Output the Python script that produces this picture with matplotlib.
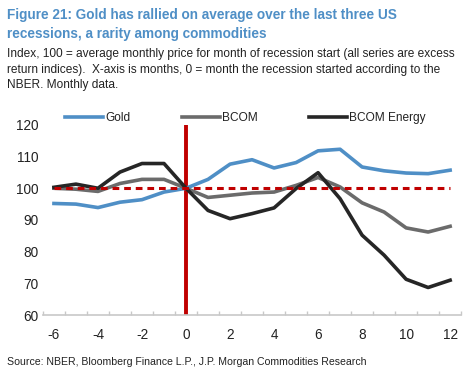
import matplotlib
matplotlib.use("Agg")
import matplotlib.pyplot as plt

months = list(range(-6, 13))
gold = [95.2, 95.0, 93.9, 95.6, 96.4, 98.8, 100.0, 102.8, 107.6, 109.0, 106.4,
        108.1, 111.8, 112.3, 106.7, 105.5, 104.8, 104.6, 105.7]
bcom = [100.0, 99.7, 99.0, 101.5, 102.8, 102.8, 100.0, 97.1, 97.8, 98.5, 98.8,
        100.9, 103.4, 100.4, 95.4, 92.5, 87.5, 86.2, 88.0]
energy = [100.3, 101.3, 100.0, 105.1, 107.8, 107.8, 100.0, 93.0, 90.4, 92.0, 93.8,
          99.9, 104.9, 96.7, 85.2, 78.9, 71.3, 68.7, 71.0]
yticks = [60, 70, 80, 90, 100, 110, 120]
xticks = [-6, -4, -2, 0, 2, 4, 6, 8, 10, 12]

TITLE = "Figure 21: Gold has rallied on average over the last three US\nrecessions, a rarity among commodities"
SUB = ("Index, 100 = average monthly price for month of recession start (all series are excess\n"
       "return indices).  X-axis is months, 0 = month the recession started according to the\n"
       "NBER. Monthly data.")
SOURCE = "Source: NBER, Bloomberg Finance L.P., J.P. Morgan Commodities Research"

fam = ["Liberation Sans", "DejaVu Sans"]
plt.rcParams["font.family"] = fam
plt.rcParams["axes.unicode_minus"] = False

fig = plt.figure(figsize=(4.72, 3.76), dpi=100)
ax = fig.add_axes([0.091, 0.162, 0.886, 0.506])

ax.plot(months, gold, color="#4f8fc6", lw=2.6, label="Gold", zorder=3)
ax.plot(months, bcom, color="#6b6b6b", lw=2.6, label="BCOM", zorder=3)
ax.plot(months, energy, color="#262626", lw=2.6, label="BCOM Energy", zorder=4)
ax.plot([months[0], months[-1]], [100, 100], color="#c00000", lw=2.2,
        ls=(0, (2.2, 1.6)), zorder=5)
ax.axvline(0, color="#c00000", lw=2.8, zorder=2)

ax.set_xlim(-6.5, 12.5)
ax.set_ylim(60, 120)
ax.set_yticks(yticks)
ax.set_xticks(xticks)
ax.set_xticks([m + 0.5 for m in range(-7, 13)], minor=True)
ax.tick_params(axis="y", length=0, labelsize=9.8, pad=3, labelcolor="#222222")
ax.tick_params(axis="x", which="major", length=0, labelsize=9.8, pad=9, labelcolor="#222222")
ax.tick_params(axis="x", which="minor", length=3, direction="in", color="#c8c8c8", width=1)
for s in ["top", "right", "left"]:
    ax.spines[s].set_visible(False)
ax.spines["bottom"].set_color("#c8c8c8")
ax.spines["bottom"].set_linewidth(1.2)

leg = ax.legend(loc="center left", bbox_to_anchor=(0.053, 1.037), ncol=3, frameon=False,
                borderaxespad=0, borderpad=0,
                handlelength=3.2, handletextpad=0.15, columnspacing=4.3,
                prop={"size": 8.6})
for t in leg.get_texts():
    t.set_color("#222222")

fig.text(0.015, 0.98, TITLE, ha="left", va="top", color="#4f8fc6",
         fontsize=9.8, fontweight="bold", linespacing=1.5)
fig.text(0.015, 0.873, SUB, ha="left", va="top", color="#222222",
         fontsize=8.6, linespacing=1.42)
fig.text(0.015, 0.037, SOURCE, ha="left", va="center", color="#222222",
         fontsize=7.6)

fig.savefig("out.png", dpi=100)
